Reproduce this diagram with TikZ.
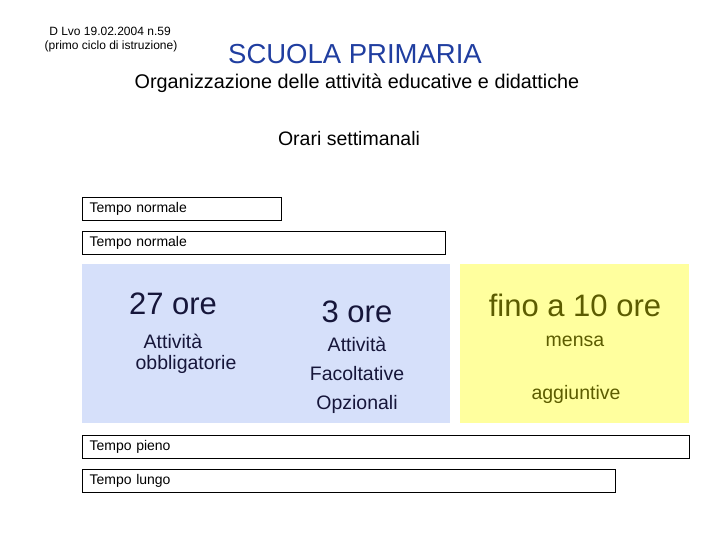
\documentclass[tikz,border=0pt]{standalone}
\usepackage{fontspec}
\setmainfont{Liberation Sans}
\definecolor{obblbg}{RGB}{214,224,250}
\definecolor{aggbg}{RGB}{255,255,158}
\definecolor{titleblue}{RGB}{32,62,160}
\definecolor{obblink}{RGB}{22,22,58}
\definecolor{aggink}{RGB}{92,92,0}
\newcommand{\fs}[1]{\fontsize{#1}{#1}\selectfont}
\tikzset{
  tempo/.style={draw, line width=1.2pt, anchor=north west, inner xsep=7pt, inner ysep=0pt,
    minimum height=23pt, align=left, font=\fs{14}},
  panel/.style={anchor=north west, inner sep=0pt, minimum height=159pt},
}

\begin{document}
\begin{tikzpicture}[x=1pt, y=-1pt]
					\useasboundingbox (0,0) rectangle (720,540);

					\node[font=\fs{12}] (dlvo) at (110,31) {D Lvo 19.02.2004 n.59};
					\node[font=\fs{12}] (ciclo) at (111,46) {(primo ciclo di istruzione)};
					\node[font=\fs{27.5}, text=titleblue] (scuola) at (355,54) {SCUOLA PRIMARIA};
					\node[font=\fs{19.8}] (org) at (357,83) {Organizzazione delle attività educative e didattiche};
					\node[font=\fs{19.5}] (orari) at (349,139) {Orari settimanali};

					\node[tempo, text width=185pt] (tn1) at (82,197) {Tempo normale};
					\node[tempo, text width=349pt] (tn2) at (82,231) {Tempo normale};

					\node[panel, fill=obblbg, minimum width=368pt] (obbl) at (82,264) {};
					\node[panel, fill=aggbg, minimum width=229pt] (agg) at (460,264) {};

					\node[font=\fs{31}, text=obblink] (ore27) at (173,304) {27 ore};
					\node[font=\fs{19.5}, text=obblink] (att1) at (173,341) {Attività};
					\node[font=\fs{19.5}, text=obblink] (obbltxt) at (186,364) {obbligatorie};
					\node[font=\fs{31}, text=obblink] (ore3) at (357,312) {3 ore};
					\node[font=\fontsize{19.5}{29}\selectfont, text=obblink, align=center] (facolt) at (357,375) {Attività\\Facoltative\\Opzionali};

					\node[font=\fs{31}, text=aggink] (ore10) at (575,305) {fino a 10 ore};
					\node[font=\fs{19.5}, text=aggink] (mensa) at (575,341) {mensa};
					\node[font=\fs{19.5}, text=aggink] (aggtxt) at (576,394) {aggiuntive};

					\node[tempo, text width=593pt] (pieno) at (82,435) {Tempo pieno};
					\node[tempo, text width=519pt] (lungo) at (82,469) {Tempo lungo};
\end{tikzpicture}
\end{document}
